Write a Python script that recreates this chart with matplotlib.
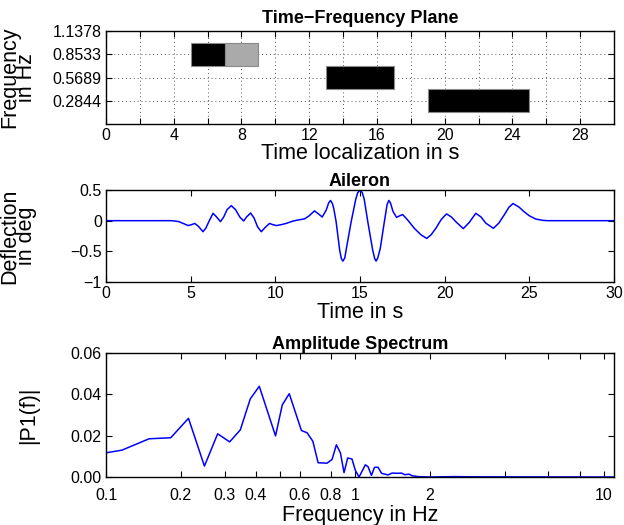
import matplotlib
matplotlib.use("Agg")
import matplotlib.pyplot as plt
import numpy as np

plt.rcParams["font.family"] = ["Liberation Sans", "DejaVu Sans"]
plt.rcParams["font.size"] = 11.5

# time-frequency plane: blocks of the multisine input
block_start = [5, 7, 13, 19]          # s
block_width = [2, 2, 4, 6]            # s
block_freq = [0.8533, 0.8533, 0.5689, 0.2844]   # Hz
block_color = ["#000000", "#aaaaaa", "#000000", "#000000"]
freq_step = 0.2844
freq_ticks = [0.2844, 0.5689, 0.8533, 1.1378]

# aileron deflection
t_ail = [0, 3.9, 4.3, 4.6, 4.85, 5.05, 5.24, 5.45, 5.73, 5.9, 6.1, 6.32, 6.5,
         6.76, 6.95, 7.15, 7.4, 7.65, 7.9, 8.13, 8.3, 8.54, 8.75, 8.95, 9.17,
         9.4, 9.66, 9.85, 10.06, 10.35, 10.64, 11.0, 11.23, 11.73, 12.0, 12.31,
         12.55, 12.77, 13.0, 13.15, 13.26, 13.37, 13.45, 13.59, 13.8, 13.9,
         13.99, 14.1, 14.2, 14.48, 14.75, 14.87, 15.0, 15.13, 15.25, 15.46,
         15.75, 15.87, 15.95, 16.05, 16.2, 16.44, 16.6, 16.7, 16.8, 16.95,
         17.16, 17.35, 17.52, 17.85, 18.21, 18.6, 18.94, 19.2, 19.48, 19.8,
         20.11, 20.4, 20.66, 21.1, 21.45, 21.84, 22.15, 22.43, 22.88, 23.2,
         23.51, 23.8, 24.04, 24.4, 24.69, 25.0, 25.38, 25.8, 26.1, 30]
defl = [0, 0, -0.015, -0.05, -0.08, -0.065, -0.045, -0.09, -0.18, -0.12, 0.0,
        0.12, 0.07, -0.016, 0.06, 0.18, 0.245, 0.18, 0.06, -0.005, 0.06, 0.125,
        0.04, -0.1, -0.18, -0.11, -0.045, -0.065, -0.08, -0.065, -0.045, -0.01,
        0.005, 0.03, 0.08, 0.16, 0.11, 0.06, 0.17, 0.29, 0.33, 0.28, 0.2,
        -0.016, -0.48, -0.62, -0.66, -0.61, -0.45, -0.016, 0.35, 0.46, 0.495,
        0.46, 0.35, -0.016, -0.48, -0.62, -0.66, -0.61, -0.45, -0.016, 0.26,
        0.33, 0.29, 0.15, 0.054, 0.08, 0.10, 0.0, -0.125, -0.23, -0.29, -0.23,
        -0.125, 0.02, 0.11, 0.06, -0.016, -0.13, -0.03, 0.12, 0.06, -0.04,
        -0.125, -0.04, 0.09, 0.22, 0.28, 0.22, 0.147, 0.08, 0.027, 0.005, 0, 0]

# single-sided amplitude spectrum
f_spec = [0.1, 0.1159, 0.149, 0.182, 0.2145, 0.2486, 0.281, 0.314, 0.3465,
          0.38, 0.413, 0.48, 0.511, 0.545, 0.61, 0.643, 0.678, 0.712, 0.773,
          0.81, 0.843, 0.875, 0.905, 0.936, 0.974, 1.005, 1.04, 1.102, 1.13,
          1.166, 1.2, 1.24, 1.28, 1.36, 1.41, 1.49, 1.54, 1.59, 1.65, 1.7,
          1.8, 2.0, 2.5, 3.0, 11]
p1 = [0.0117, 0.0130, 0.0185, 0.0190, 0.0284, 0.0053, 0.0209, 0.0170, 0.0228,
      0.0378, 0.0439, 0.0199, 0.0349, 0.0403, 0.0225, 0.0214, 0.0173, 0.0069,
      0.0067, 0.0085, 0.0156, 0.0117, 0.0021, 0.0092, 0.0087, 0.0032, 0.0,
      0.0059, 0.0050, 0.0008, 0.0047, 0.0047, 0.0018, 0.0010, 0.0019, 0.0018,
      0.0019, 0.0011, 0.0014, 0.0006, 0.0002, 0.0, 0.0002, 0.0001, 0.0]
spec_ticks = [0.1, 0.2, 0.3, 0.4, 0.5, 0.6, 0.8, 1, 2, 4, 6, 8, 10]
spec_labels = ["0.1", "0.2", "0.3", "0.4", "", "0.6", "0.8", "1", "2",
               "", "", "", "10"]

LABEL_SIZE = 15.5
TITLE_SIZE = 13


def matlab_axes(ax):
    ax.tick_params(direction="in", top=True, right=True, length=4, width=0.8,
                   which="both", pad=3)
    ax.tick_params(which="minor", length=0)
    for s in ax.spines.values():
        s.set_linewidth(1.0)


fig = plt.figure(figsize=(6.24, 5.25), dpi=100)

# time-frequency plane
ax1 = fig.add_axes([0.1699, 0.7638, 0.814, 0.177])
bottoms = np.array(block_freq) - freq_step / 2
ax1.bar(block_start, freq_step, width=block_width, bottom=bottoms,
        align="edge", color=block_color, edgecolor="#8a8a8a", linewidth=0.8,
        zorder=3)
ax1.set_xlim(0, 30)
ax1.set_ylim(0, 1.1378)
ax1.set_xticks(np.arange(0, 30, 2))
ax1.set_xticklabels([str(v) if v % 4 == 0 else "" for v in range(0, 30, 2)])
ax1.set_yticks(freq_ticks)
ax1.set_yticklabels(["%.4f" % v for v in freq_ticks])
ax1.grid(True, linestyle=(0, (1, 3)), color="#555555", linewidth=0.7)
ax1.set_axisbelow(True)
matlab_axes(ax1)
ax1.set_title("Time\u2212Frequency Plane", fontweight="bold",
              fontsize=TITLE_SIZE, pad=6)
ax1.set_xlabel("Time localization in s", fontsize=LABEL_SIZE, labelpad=0)
ax1.set_ylabel("Frequency\nin Hz", fontsize=LABEL_SIZE, linespacing=0.75)
ax1.yaxis.set_label_coords(-0.136, 0.5)

# aileron deflection
ax2 = fig.add_axes([0.1699, 0.463, 0.814, 0.175])
ax2.plot(t_ail, defl, color="#0000ff", linewidth=1.1)
ax2.set_xlim(0, 30)
ax2.set_ylim(-1, 0.5)
ax2.set_xticks([0, 5, 10, 15, 20, 25, 30])
ax2.set_yticks([-1, -0.5, 0, 0.5])
ax2.set_yticklabels(["\u22121", "\u22120.5", "0", "0.5"])
matlab_axes(ax2)
ax2.set_title("Aileron", fontweight="bold", fontsize=TITLE_SIZE, pad=2)
ax2.set_xlabel("Time in s", fontsize=LABEL_SIZE, labelpad=1)
ax2.set_ylabel("Deflection\nin deg", fontsize=LABEL_SIZE, linespacing=0.75)
ax2.yaxis.set_label_coords(-0.136, 0.5)

# amplitude spectrum
ax3 = fig.add_axes([0.1699, 0.0914, 0.814, 0.2362])
ax3.plot(f_spec, p1, color="#0000ff", linewidth=1.1)
ax3.set_xscale("log")
ax3.set_xlim(0.1, 11)
ax3.set_ylim(0, 0.06)
ax3.set_xticks(spec_ticks)
ax3.set_xticklabels(spec_labels)
ax3.set_yticks([0, 0.02, 0.04, 0.06])
ax3.set_yticklabels(["0.00", "0.02", "0.04", "0.06"])
matlab_axes(ax3)
ax3.tick_params(axis="x", which="major", pad=8)
ax3.set_title("Amplitude Spectrum", fontweight="bold", fontsize=TITLE_SIZE,
              pad=3)
ax3.set_xlabel("Frequency in Hz", fontsize=LABEL_SIZE, labelpad=1)
ax3.set_ylabel("|P1(f)|", fontsize=LABEL_SIZE)
ax3.yaxis.set_label_coords(-0.132, 0.5)

fig.savefig("out.png", dpi=100, facecolor="white")
